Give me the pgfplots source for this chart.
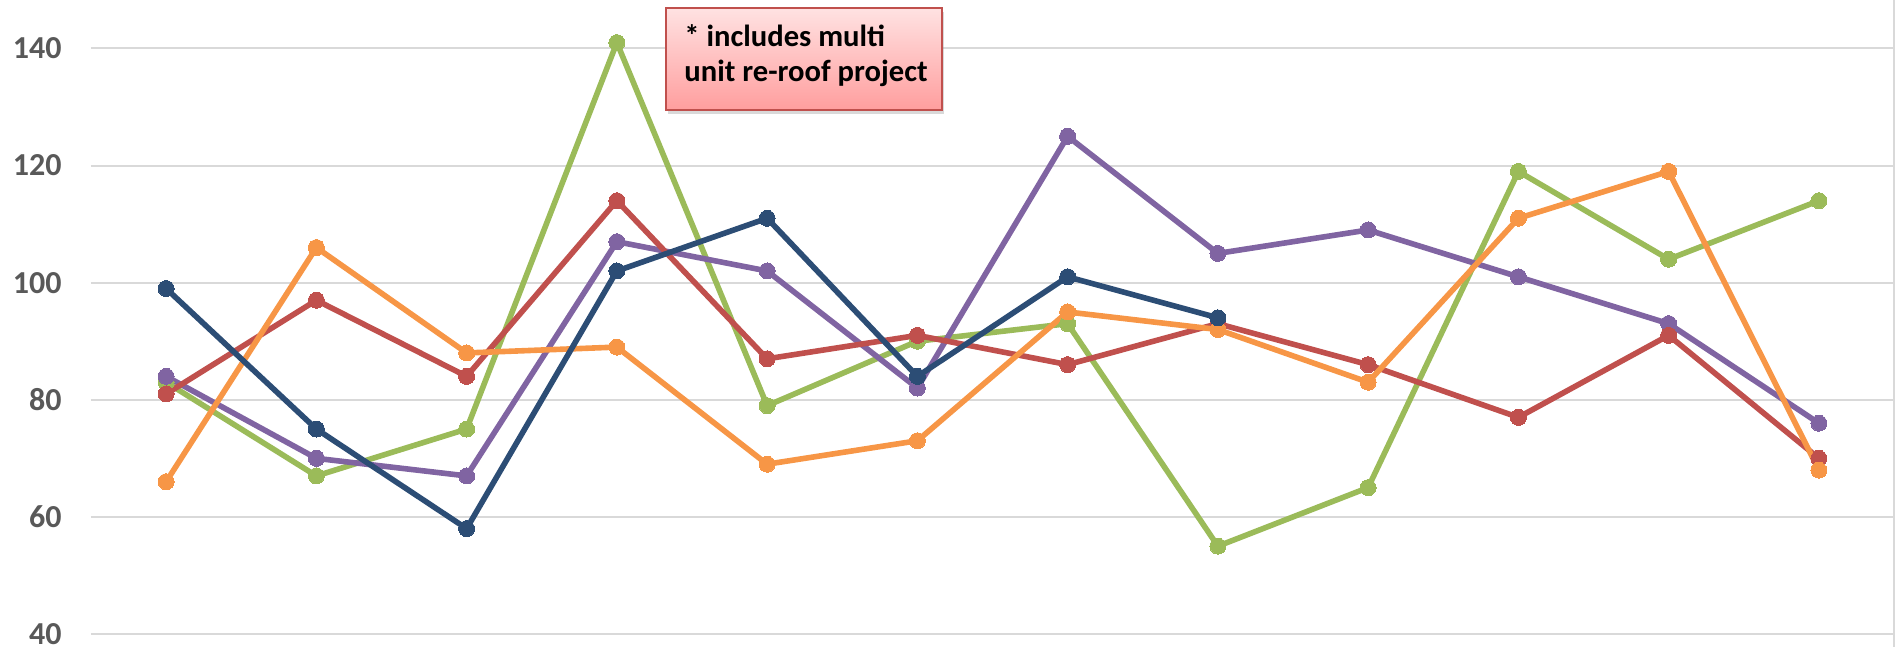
\documentclass[border=0pt]{standalone}
\usepackage{fontspec}
\setmainfont{Carlito}
\usepackage{pgfplots}
\pgfplotsset{compat=1.18}
\usetikzlibrary{shadows}
\definecolor{cblue}{HTML}{2C4D75}
\definecolor{cred}{HTML}{C0504D}
\definecolor{cgreen}{HTML}{9BBB59}
\definecolor{cpurple}{HTML}{8064A2}
\definecolor{corange}{HTML}{F79646}
\definecolor{gridgray}{HTML}{D9D9D9}
\definecolor{tickgray}{HTML}{595959}
\definecolor{boxborder}{HTML}{C0504D}
\definecolor{boxtop}{HTML}{FFE2E2}
\definecolor{boxbottom}{HTML}{FF9E9E}
\begin{document}
\begin{tikzpicture}
\useasboundingbox (-45.5pt,0pt) rectangle (904.5pt,323.5pt);
\begin{axis}[
  at={(0pt,0pt)}, anchor=south west,
  scale only axis, width=901.5pt, height=323.5pt,
  xmin=0.5, xmax=12.5, ymin=37.78, ymax=148.28,
  ytick={40,60,80,100,120,140}, xtick=\empty,
  ymajorgrids, grid style={color=gridgray, line width=1pt},
  axis line style={draw=none}, major tick length=0pt,
  yticklabel style={font=\bfseries\fontsize{16}{19}\selectfont, text=tickgray, anchor=east, inner sep=0pt, xshift=-14.5pt},
  /pgf/number format/assume math mode=true,
  clip=false,
  every axis plot/.append style={line width=2.8pt, mark=*, mark size=4pt, line join=round},
]
\draw[gridgray, line width=1pt] (rel axis cs:1,0) -- (rel axis cs:1,1);
% green
\addplot[color=cgreen, mark options={fill=cgreen, draw=cgreen, line width=0pt}] coordinates {
(1,83) (2,67) (3,75) (4,141) (5,79) (6,90) (7,93) (8,55) (9,65) (10,119) (11,104) (12,114)};
% purple
\addplot[color=cpurple, mark options={fill=cpurple, draw=cpurple, line width=0pt}] coordinates {
(1,84) (2,70) (3,67) (4,107) (5,102) (6,82) (7,125) (8,105) (9,109) (10,101) (11,93) (12,76)};
% red
\addplot[color=cred, mark options={fill=cred, draw=cred, line width=0pt}] coordinates {
(1,81) (2,97) (3,84) (4,114) (5,87) (6,91) (7,86) (8,93) (9,86) (10,77) (11,91) (12,70)};
% orange
\addplot[color=corange, mark options={fill=corange, draw=corange, line width=0pt}] coordinates {
(1,66) (2,106) (3,88) (4,89) (5,69) (6,73) (7,95) (8,92) (9,83) (10,111) (11,119) (12,68)};
% dark blue
\addplot[color=cblue, mark options={fill=cblue, draw=cblue, line width=0pt}] coordinates {
(1,99) (2,75) (3,58) (4,102) (5,111) (6,84) (7,101) (8,94)};
\node[draw=boxborder, line width=0.9pt, top color=boxtop, bottom color=boxbottom,
  drop shadow={opacity=0.3, shadow xshift=1pt, shadow yshift=-2pt},
  minimum width=138pt, minimum height=51pt, inner sep=0pt, anchor=north west]
  (box) at (axis description cs:0.3184,0.9892) {};
\node[anchor=base west, inner sep=0pt, font=\bfseries\fontsize{15.3}{18}\selectfont]
  at ([xshift=9.5pt,yshift=-20pt]box.north west) {* includes multi};
\node[anchor=base west, inner sep=0pt, font=\bfseries\fontsize{15.3}{18}\selectfont]
  at ([xshift=9.5pt,yshift=-37.5pt]box.north west) {unit re-roof project};
\end{axis}
\end{tikzpicture}
\end{document}
